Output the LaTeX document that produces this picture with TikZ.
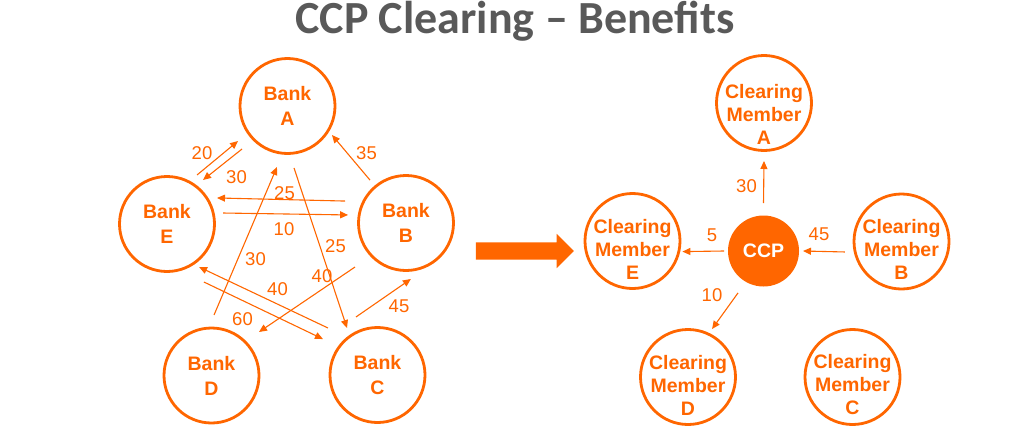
\documentclass[tikz,border=0pt]{standalone}
\usepackage{fontspec}
\setmainfont{Liberation Sans}
\newfontfamily\titlefont{Carlito}
\usepackage{tikz}
\usetikzlibrary{positioning, shapes.arrows, arrows.meta, calc}
\definecolor{ccporange}{RGB}{255,102,0}
\definecolor{titlegray}{RGB}{89,89,89}

\begin{document}
\begin{tikzpicture}[
        x=1pt, y=-1pt,
        title/.style={text=titlegray, font=\titlefont\bfseries\fontsize{46}{50}\selectfont, inner sep=0pt},
        bank/.style={circle, draw=ccporange, line width=2.8pt, minimum size=95pt, inner sep=0pt,
                align=center, text=ccporange, font=\fontsize{19.5}{25}\selectfont\bfseries},
        member/.style={circle, draw=ccporange, line width=2.8pt, minimum size=95pt, inner sep=0pt},
        membertext/.style={align=center, text=ccporange, inner sep=0pt, yshift=-8pt,
                font=\fontsize{19.5}{23}\selectfont\bfseries},
        ccp/.style={circle, fill=ccporange, minimum size=71pt, inner sep=0pt, text=white,
                font=\fontsize{19.5}{23}\selectfont\bfseries},
        flow/.style={-{Triangle[length=8pt, width=7pt]}, ccporange, line width=1.1pt},
        amount/.style={text=ccporange, font=\fontsize{18.5}{22}\selectfont, inner sep=0pt},
        bigarrow/.style={single arrow, fill=ccporange, minimum height=98pt, inner sep=0pt,
                text height=8.5pt, text depth=8.5pt, text width=0pt,
                single arrow head extend=8.5pt},
    ]
    \useasboundingbox (0,0) rectangle (1024,431);

    % --- title ------------------------------------------------------
    \node[title, anchor=base] (heading) at (515,33) {CCP Clearing – Benefits};

    % --- bilateral banks --------------------------------------------
    \node[bank] (A) at (287.5,106) {Bank\\A};
    \node[bank] (E) at (167,224)   {Bank\\E};
    \node[bank] (B) at (406,223)   {Bank\\B};
    \node[bank] (D) at (211.5,375.5) {Bank\\D};
    \node[bank] (C) at (377.5,375) {Bank\\C};

    % --- bilateral exposures ----------------------------------------
    \draw[flow] ($(E)+(58.5:57.5pt)$)  -- ($(A)+(215.3:60.6pt)$);
    \draw[flow] ($(A)+(223.4:62.6pt)$) -- ($(E)+(50.7:56.9pt)$);
    \draw[flow] ($(B)+(130:56pt)$)     -- ($(A)+(-33.1:53.1pt)$);
    \draw[flow] ($(B)+(160.2:64.8pt)$) -- ($(E)+(27.5:56.4pt)$);
    \draw[flow] ($(E)+(11.1:57.1pt)$)  -- ($(B)+(172.1:58.5pt)$);
    \draw[flow] ($(D)+(87.6:60.6pt)$)  -- ($(A)+(260.2:61.9pt)$);
    \draw[flow] ($(A)+(276:62.3pt)$)   -- ($(C)+(123:56pt)$);
    \draw[flow] ($(B)+(220.8:67.4pt)$) -- ($(D)+(42.5:64.4pt)$);
    \draw[flow] ($(C)+(136.5:68.3pt)$) -- ($(E)+(-53.3:53.6pt)$);
    \draw[flow] ($(E)+(-57.5:68.8pt)$) -- ($(C)+(146.6:65.3pt)$);
    \draw[flow] ($(C)+(110.3:61.9pt)$) -- ($(B)+(275:56.2pt)$);

    \node[amount] (a20) at (202,153)   {20};
    \node[amount] (a30) at (236.5,177) {30};
    \node[amount] (a35) at (366.5,153) {35};
    \node[amount] (a25) at (284.5,193) {25};
    \node[amount] (a10) at (284,229)   {10};
    \node[amount] (b30) at (255.5,259) {30};
    \node[amount] (b25) at (335.5,246) {25};
    \node[amount] (b40) at (322,276)   {40};
    \node[amount] (c40) at (277.5,289) {40};
    \node[amount] (a60) at (242.5,319) {60};
    \node[amount] (a45) at (399,306)   {45};

    % --- transition -------------------------------------------------
    \node[bigarrow] (towards) at (520.5,251) {};

    % --- central counterparty ---------------------------------------
    \node[member, label={[membertext, yshift=-3pt]center:Clearing\\Member\\A}] (mA) at (764,103) {};
    \node[member, label={[membertext]center:Clearing\\Member\\E}] (mE) at (632.5,241) {};
    \node[member, label={[membertext]center:Clearing\\Member\\B}] (mB) at (901.5,241.5) {};
    \node[member, label={[membertext]center:Clearing\\Member\\D}] (mD) at (688,377) {};
    \node[member, label={[membertext]center:Clearing\\Member\\C}] (mC) at (852.5,377) {};
    \node[ccp] (ccp) at (763.5,251) {CCP};

    \draw[flow] ($(ccp)+(90:48pt)$)     -- ($(mA)+(270:58pt)$);
    \draw[flow] ($(ccp)+(180:39.5pt)$)  -- ($(mE)+(-12:51pt)$);
    \draw[flow] ($(mB)+(190.5:57.5pt)$) -- ($(ccp)+(0:39.5pt)$);
    \draw[flow] ($(ccp)+(238.7:49pt)$)  -- ($(mD)+(63.4:53.7pt)$);

    \node[amount] (m30) at (746.5,186) {30};
    \node[amount] (m5)  at (712,235)   {5};
    \node[amount] (m45) at (819,234)   {45};
    \node[amount] (m10) at (712,295)   {10};
\end{tikzpicture}
\end{document}
